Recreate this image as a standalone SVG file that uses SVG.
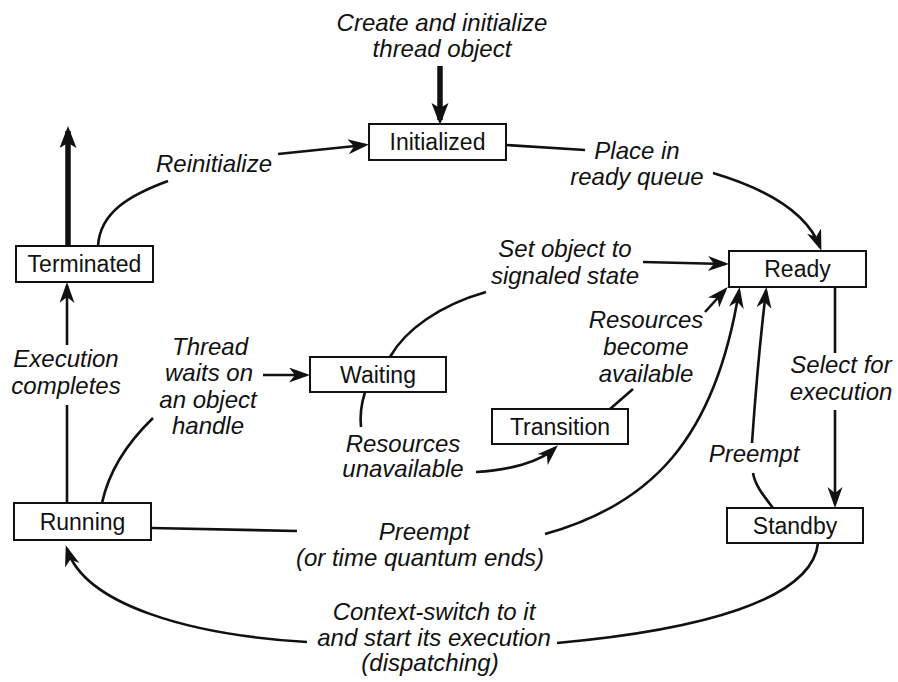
<svg xmlns="http://www.w3.org/2000/svg" width="898" height="682" viewBox="0 0 898 682">
  <style>
    .box { fill: #fff; stroke: #111; stroke-width: 2; }
    .name { font-family: "Liberation Sans", Arial, sans-serif; font-size: 23px; fill: #111; text-anchor: middle; }
    .lbl { font-family: "Liberation Sans", Arial, sans-serif; font-size: 24px; font-style: italic; fill: #111; text-anchor: middle; }
    .edge { fill: none; stroke: #111; stroke-width: 2.6; }
    .heavy { fill: none; stroke: #111; stroke-width: 5.5; }
  </style>
  <defs>
    <marker id="arrow" markerUnits="userSpaceOnUse" markerWidth="22" markerHeight="16" refX="17" refY="7.5" orient="auto">
      <path d="M0,0 L21,7.5 L0,15 L6,7.5 z" fill="#111"/>
    </marker>
    <marker id="arrow-heavy" markerUnits="userSpaceOnUse" markerWidth="24" markerHeight="18" refX="17" refY="8.5" orient="auto">
      <path d="M0,0 L22,8.5 L0,17 L5,8.5 z" fill="#111"/>
    </marker>
  </defs>

  <rect width="898" height="682" fill="#fff"/>

  <!-- transitions between thread states -->
  <g id="connectors">
    <path class="heavy" d="M440,66 L440,120" marker-end="url(#arrow-heavy)"/>
    <path class="heavy" d="M68,246 L68,131" marker-end="url(#arrow-heavy)"/>
    <path class="edge" d="M98,246 C100,212 130,195 168,181"/>
    <path class="edge" d="M278,154 L365,145" marker-end="url(#arrow)"/>
    <path class="edge" d="M506,145 L585,150"/>
    <path class="edge" d="M713,173 C770,190 808,215 820,247" marker-end="url(#arrow)"/>
    <path class="edge" d="M390,357 C405,330 440,305 486,292"/>
    <path class="edge" d="M643,262 L725,264" marker-end="url(#arrow)"/>
    <path class="edge" d="M263,375 L306,375" marker-end="url(#arrow)"/>
    <path class="edge" d="M102,503 C108,475 125,445 153,418"/>
    <path class="edge" d="M67,503 L67,405"/>
    <path class="edge" d="M67,345 L67,286" marker-end="url(#arrow)"/>
    <path class="edge" d="M365,392 C361,405 360,418 361,427"/>
    <path class="edge" d="M476,472 C510,470 540,462 555,448" marker-end="url(#arrow)"/>
    <path class="edge" d="M610,409 L633,389"/>
    <path class="edge" d="M705,312 L725,290" marker-end="url(#arrow)"/>
    <path class="edge" d="M151,528 L297,531"/>
    <path class="edge" d="M545,534 C650,505 715,440 739,291" marker-end="url(#arrow)"/>
    <path class="edge" d="M773,508 C763,495 755,485 753,473"/>
    <path class="edge" d="M752,443 C755,400 760,340 766,291" marker-end="url(#arrow)"/>
    <path class="edge" d="M835,287 L835,353"/>
    <path class="edge" d="M835,410 L835,504" marker-end="url(#arrow)"/>
    <path class="edge" d="M818,543 C812,600 700,630 557,643"/>
    <path class="edge" d="M307,642 C190,635 85,605 67,549" marker-end="url(#arrow)"/>
  </g>

  <!-- transition labels -->
  <g id="labels">
    <text class="lbl" x="442" y="31">Create and initialize</text>
    <text class="lbl" x="442" y="57">thread object</text>
    <text class="lbl" x="214" y="172">Reinitialize</text>
    <text class="lbl" x="637" y="159">Place in</text>
    <text class="lbl" x="637" y="185">ready queue</text>
    <text class="lbl" x="565" y="257">Set object to</text>
    <text class="lbl" x="565" y="284">signaled state</text>
    <text class="lbl" x="210" y="355">Thread</text>
    <text class="lbl" x="209" y="381">waits on</text>
    <text class="lbl" x="208" y="408">an object</text>
    <text class="lbl" x="208" y="434">handle</text>
    <text class="lbl" x="66" y="367">Execution</text>
    <text class="lbl" x="66" y="394">completes</text>
    <text class="lbl" x="403" y="452">Resources</text>
    <text class="lbl" x="403" y="477">unavailable</text>
    <text class="lbl" x="646" y="328">Resources</text>
    <text class="lbl" x="646" y="355">become</text>
    <text class="lbl" x="646" y="382">available</text>
    <text class="lbl" x="841" y="373">Select for</text>
    <text class="lbl" x="841" y="400">execution</text>
    <text class="lbl" x="754" y="462">Preempt</text>
    <text class="lbl" x="424" y="540">Preempt</text>
    <text class="lbl" x="420" y="566">(or time quantum ends)</text>
    <text class="lbl" x="434" y="620">Context-switch to it</text>
    <text class="lbl" x="434" y="646">and start its execution</text>
    <text class="lbl" x="430" y="671">(dispatching)</text>
  </g>

  <!-- thread states -->
  <g id="initialized">
    <rect class="box" x="369" y="124" width="137" height="36"/>
    <text class="name" x="437.5" y="150">Initialized</text>
  </g>
  <g id="terminated">
    <rect class="box" x="16" y="246" width="137" height="36"/>
    <text class="name" x="84.5" y="272">Terminated</text>
  </g>
  <g id="waiting">
    <rect class="box" x="310" y="357" width="136" height="35"/>
    <text class="name" x="378" y="383">Waiting</text>
  </g>
  <g id="transition">
    <rect class="box" x="492" y="409" width="136" height="35"/>
    <text class="name" x="560" y="435">Transition</text>
  </g>
  <g id="ready">
    <rect class="box" x="729" y="251" width="137" height="36"/>
    <text class="name" x="797.5" y="277">Ready</text>
  </g>
  <g id="running">
    <rect class="box" x="14" y="503" width="137" height="37"/>
    <text class="name" x="82.5" y="530">Running</text>
  </g>
  <g id="standby">
    <rect class="box" x="727" y="508" width="136" height="35"/>
    <text class="name" x="795" y="534">Standby</text>
  </g>
</svg>
